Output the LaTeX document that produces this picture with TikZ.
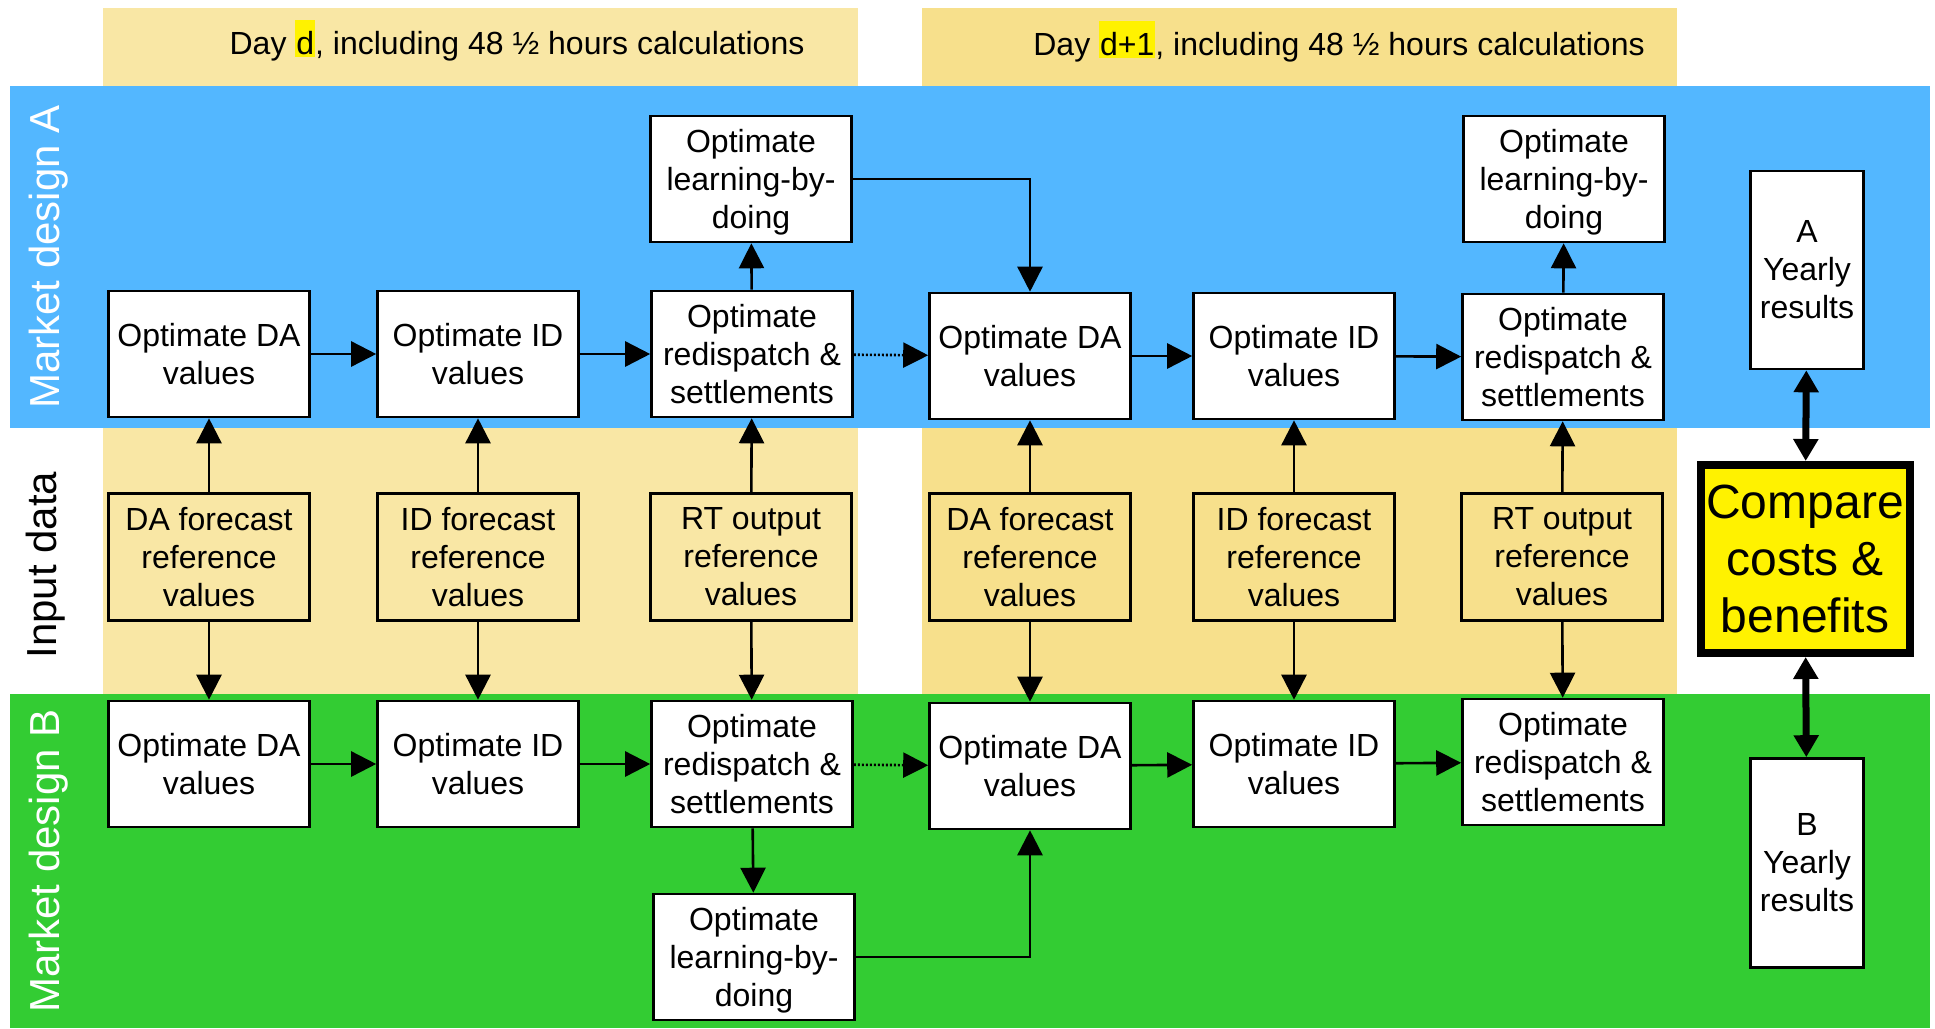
\documentclass[tikz,border=0pt]{standalone}
\usepackage{fontspec}
\setmainfont{Liberation Sans}
\usetikzlibrary{arrows.meta}
\definecolor{bandblue}{RGB}{83,183,255}
\definecolor{bandgreen}{RGB}{51,204,51}
\definecolor{tanA}{RGB}{249,231,165}
\definecolor{tanB}{RGB}{247,224,140}
\newcommand\hlmark[1]{{\setlength\fboxsep{1pt}\colorbox{yellow}{\rule[-2pt]{0pt}{35pt}#1}}}
\begin{document}
\begin{tikzpicture}[x=1pt,y=-1pt,
  box/.style={draw, line width=2.6pt, fill=white, minimum width=201pt, minimum height=126pt,
    inner sep=0pt, align=center, font=\fontsize{32}{38}\selectfont},
  inbox/.style={box, minimum height=127pt},
  lbdbox/.style={box, text depth=0pt},
  conn/.style={line width=2.6pt, -{Triangle[length=25pt,width=25pt]}},
  dotconn/.style={conn, dash pattern=on 2pt off 2pt},
  bigconn/.style={line width=7pt, {Triangle[length=22pt,width=24pt]}-{Triangle[length=22pt,width=24pt]}},
  sidelabel/.style={rotate=90, font=\fontsize{42}{50}\selectfont},
  header/.style={anchor=base, font=\fontsize{32}{38}\selectfont},
]
\useasboundingbox (0,0) rectangle (1935,1028);
% background bands
\fill[tanA] (103,8) rectangle (858,694);
\fill[tanB] (922,8) rectangle (1677,694);
\fill[bandblue] (10,86) rectangle (1930,428);
\fill[bandgreen] (10,694) rectangle (1930,1028);

% side labels
\node[sidelabel, text=white] (labA) at (49,257) {Market design A};
\node[sidelabel] (labI) at (46,565) {Input data};
\node[sidelabel, text=white] (labB) at (49,861) {Market design B};

% headers
\node[header] (hd1) at (517,54) {Day \hlmark{d}, including 48 ½ hours calculations};
\node[header] (hd2) at (1339,55) {Day \hlmark{d+1}, including 48 ½ hours calculations};

% market design A
\node[box] (daA1) at (209,354) {Optimate DA\\values};
\node[box] (idA1) at (478,354) {Optimate ID\\values};
\node[box] (rdA1) at (752,354) {Optimate\\redispatch \&\\settlements};
\node[lbdbox] (lbA1) at (751,179) {Optimate\\learning-by-\\doing};
\node[box] (daA2) at (1030,356) {Optimate DA\\values};
\node[box] (idA2) at (1294,356) {Optimate ID\\values};
\node[box] (rdA2) at (1563,357) {Optimate\\redispatch \&\\settlements};
\node[lbdbox] (lbA2) at (1564,179) {Optimate\\learning-by-\\doing};

% input data
\node[inbox, fill=tanA] (inDA1) at (209,557) {DA forecast\\reference\\values};
\node[inbox, fill=tanA] (inID1) at (478,557) {ID forecast\\reference\\values};
\node[inbox, fill=tanA] (inRT1) at (751,557) {RT output\\reference\\values};
\node[inbox, fill=tanB] (inDA2) at (1030,557) {DA forecast\\reference\\values};
\node[inbox, fill=tanB] (inID2) at (1294,557) {ID forecast\\reference\\values};
\node[inbox, fill=tanB] (inRT2) at (1562,557) {RT output\\reference\\values};

% market design B
\node[box] (daB1) at (209,764) {Optimate DA\\values};
\node[box] (idB1) at (478,764) {Optimate ID\\values};
\node[box] (rdB1) at (752,764) {Optimate\\redispatch \&\\settlements};
\node[lbdbox] (lbB1) at (754,957) {Optimate\\learning-by-\\doing};
\node[box] (daB2) at (1030,766) {Optimate DA\\values};
\node[box] (idB2) at (1294,764) {Optimate ID\\values};
\node[box] (rdB2) at (1563,762) {Optimate\\redispatch \&\\settlements};

% results
\node[box, minimum width=113pt, minimum height=198pt] (yrA) at (1807,270) {A\\Yearly\\results};
\node[box, minimum width=113pt, minimum height=209pt] (yrB) at (1807,863) {B\\Yearly\\results};
\node[box, fill=yellow, line width=8pt, minimum width=209pt, minimum height=188pt,
      font=\fontsize{48}{57}\selectfont] (cmp) at (1805,559) {Compare\\costs \&\\benefits};

% connectors A
\draw[conn] (daA1) -- (idA1);
\draw[conn] (idA1) -- (rdA1);
\draw[conn] (rdA1) -- (lbA1);
\draw[dotconn] (rdA1) -- (daA2);
\draw[conn] (lbA1.east) -| (daA2.north);
\draw[conn] (daA2) -- (idA2);
\draw[conn] (idA2) -- (rdA2);
\draw[conn] (rdA2) -- (lbA2);

% connectors input
\foreach \i/\a/\b in {inDA1/daA1/daB1, inID1/idA1/idB1, inRT1/rdA1/rdB1,
                      inDA2/daA2/daB2, inID2/idA2/idB2, inRT2/rdA2/rdB2}{
  \draw[conn] (\i) -- (\a);
  \draw[conn] (\i) -- (\b);
}

% connectors B
\draw[conn] (daB1) -- (idB1);
\draw[conn] (idB1) -- (rdB1);
\draw[conn] (rdB1) -- (lbB1);
\draw[dotconn] (rdB1) -- (daB2);
\draw[conn] (lbB1.east) -| (daB2.south);
\draw[conn] (daB2) -- (idB2);
\draw[conn] (idB2) -- (rdB2);

% results connectors
\draw[bigconn] (yrA) -- (cmp);
\draw[bigconn] (cmp) -- (yrB);
\end{tikzpicture}
\end{document}
